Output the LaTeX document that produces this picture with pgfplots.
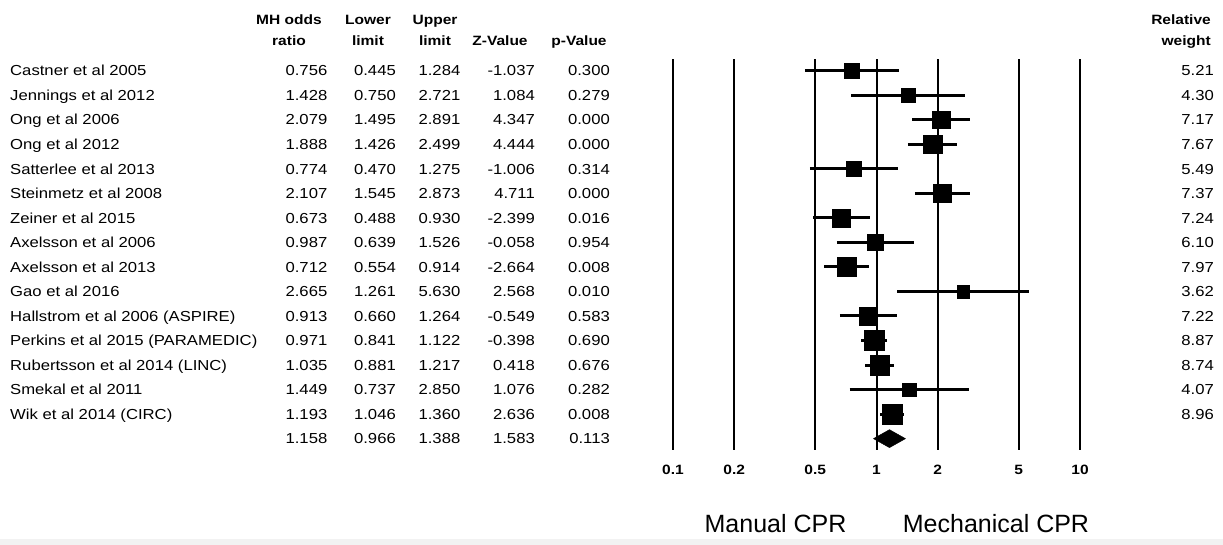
\documentclass[border=0pt]{standalone}
\usepackage{pgfplots}
\pgfplotsset{compat=1.18}
\usepackage{fontspec}
\setmainfont[FakeStretch=1.15]{Liberation Sans}
\newfontfamily\plainfont{Liberation Sans}

\begin{document}
\begin{tikzpicture}[every node/.style={inner sep=0pt, font=\fontsize{14.5bp}{17bp}\selectfont}]
\useasboundingbox (0bp,0bp) rectangle (1223bp,545bp);
\fill[white] (0bp,0bp) rectangle (1223bp,545bp);
\fill[black!5] (0bp,0bp) rectangle (1223bp,6bp);
\begin{axis}[
  at={(673bp,486bp)}, anchor=north west,
  scale only axis, width=407bp, height=391bp,
  xmode=log, xmin=0.1, xmax=10,
  ymin=0.523, ymax=16.463, y dir=reverse,
  xtick={0.1,0.2,0.5,1,2,5,10},
  xticklabels={0.1,0.2,0.5,1,2,5,10},
  xticklabel style={font=\bfseries\fontsize{13.5bp}{16bp}\selectfont, anchor=center, yshift=-20bp},
  ytick=\empty,
  xmajorgrids, grid style={black, line width=2bp},
  axis line style={draw=none}, major tick length=0pt,
  clip=false,
]
% confidence intervals
\addplot[black, line width=3bp, no marks] coordinates {(0.445,1) (1.284,1)};
\addplot[black, line width=3bp, no marks] coordinates {(0.750,2) (2.721,2)};
\addplot[black, line width=3bp, no marks] coordinates {(1.495,3) (2.891,3)};
\addplot[black, line width=3bp, no marks] coordinates {(1.426,4) (2.499,4)};
\addplot[black, line width=3bp, no marks] coordinates {(0.470,5) (1.275,5)};
\addplot[black, line width=3bp, no marks] coordinates {(1.545,6) (2.873,6)};
\addplot[black, line width=3bp, no marks] coordinates {(0.488,7) (0.930,7)};
\addplot[black, line width=3bp, no marks] coordinates {(0.639,8) (1.526,8)};
\addplot[black, line width=3bp, no marks] coordinates {(0.554,9) (0.914,9)};
\addplot[black, line width=3bp, no marks] coordinates {(1.261,10) (5.630,10)};
\addplot[black, line width=3bp, no marks] coordinates {(0.660,11) (1.264,11)};
\addplot[black, line width=3bp, no marks] coordinates {(0.841,12) (1.122,12)};
\addplot[black, line width=3bp, no marks] coordinates {(0.881,13) (1.217,13)};
\addplot[black, line width=3bp, no marks] coordinates {(0.737,14) (2.850,14)};
\addplot[black, line width=3bp, no marks] coordinates {(1.046,15) (1.360,15)};
% odds ratios, square size from relative weight
\addplot[only marks, mark=square*, black, mark size=7.53bp] coordinates {(0.756,1)};
\addplot[only marks, mark=square*, black, mark size=6.84bp] coordinates {(1.428,2)};
\addplot[only marks, mark=square*, black, mark size=8.84bp] coordinates {(2.079,3)};
\addplot[only marks, mark=square*, black, mark size=9.14bp] coordinates {(1.888,4)};
\addplot[only marks, mark=square*, black, mark size=7.73bp] coordinates {(0.774,5)};
\addplot[only marks, mark=square*, black, mark size=8.96bp] coordinates {(2.107,6)};
\addplot[only marks, mark=square*, black, mark size=8.88bp] coordinates {(0.673,7)};
\addplot[only marks, mark=square*, black, mark size=8.15bp] coordinates {(0.987,8)};
\addplot[only marks, mark=square*, black, mark size=9.32bp] coordinates {(0.712,9)};
\addplot[only marks, mark=square*, black, mark size=6.28bp] coordinates {(2.665,10)};
\addplot[only marks, mark=square*, black, mark size=8.87bp] coordinates {(0.913,11)};
\addplot[only marks, mark=square*, black, mark size=9.83bp] coordinates {(0.971,12)};
\addplot[only marks, mark=square*, black, mark size=9.76bp] coordinates {(1.035,13)};
\addplot[only marks, mark=square*, black, mark size=6.66bp] coordinates {(1.449,14)};
\addplot[only marks, mark=square*, black, mark size=9.88bp] coordinates {(1.193,15)};
% summary diamond
\addplot[fill=black, draw=black, no marks] coordinates {(0.966,16) (1.158,15.633) (1.388,16) (1.158,16.367) (0.966,16)};
\end{axis}

% headers
\begin{scope}[every node/.style={inner sep=0pt, font=\bfseries\fontsize{13.5bp}{16bp}\selectfont, anchor=base}]
\node at (289bp,520bp) {MH odds};
\node at (289bp,499bp) {ratio};
\node at (368bp,520bp) {Lower};
\node at (368bp,499bp) {limit};
\node at (435bp,520bp) {Upper};
\node at (435bp,499bp) {limit};
\node at (500bp,499bp) {Z-Value};
\node at (579bp,499bp) {p-Value};
\node[anchor=base east] at (1211bp,520bp) {Relative};
\node[anchor=base east] at (1211bp,499bp) {weight};
\end{scope}

\foreach \k/\name/\a/\b/\c/\z/\p/\w in {
 1/Castner et al 2005/0.756/0.445/1.284/-1.037/0.300/5.21,
 2/Jennings et al 2012/1.428/0.750/2.721/1.084/0.279/4.30,
 3/Ong et al 2006/2.079/1.495/2.891/4.347/0.000/7.17,
 4/Ong et al 2012/1.888/1.426/2.499/4.444/0.000/7.67,
 5/Satterlee et al 2013/0.774/0.470/1.275/-1.006/0.314/5.49,
 6/Steinmetz et al 2008/2.107/1.545/2.873/4.711/0.000/7.37,
 7/Zeiner et al 2015/0.673/0.488/0.930/-2.399/0.016/7.24,
 8/Axelsson et al 2006/0.987/0.639/1.526/-0.058/0.954/6.10,
 9/Axelsson et al 2013/0.712/0.554/0.914/-2.664/0.008/7.97,
 10/Gao et al 2016/2.665/1.261/5.630/2.568/0.010/3.62,
 11/Hallstrom et al 2006 (ASPIRE)/0.913/0.660/1.264/-0.549/0.583/7.22,
 12/Perkins et al 2015 (PARAMEDIC)/0.971/0.841/1.122/-0.398/0.690/8.87,
 13/Rubertsson et al 2014 (LINC)/1.035/0.881/1.217/0.418/0.676/8.74,
 14/Smekal et al 2011/1.449/0.737/2.850/1.076/0.282/4.07,
 15/Wik et al 2014 (CIRC)/1.193/1.046/1.360/2.636/0.008/8.96,
 16//1.158/0.966/1.388/1.583/0.113/}{
  \pgfmathsetmacro\yy{545-(70.7+24.53*(\k-1)+5.2)}
  \node[anchor=base west] at (10bp,\yy bp) {\name};
  \node[anchor=base east] at (327.5bp,\yy bp) {\a};
  \node[anchor=base east] at (396bp,\yy bp) {\b};
  \node[anchor=base east] at (460.5bp,\yy bp) {\c};
  \node[anchor=base east] at (535bp,\yy bp) {\z};
  \node[anchor=base east] at (610bp,\yy bp) {\p};
  \node[anchor=base east] at (1214bp,\yy bp) {\w};
}

\node[anchor=base, font=\plainfont\fontsize{25bp}{28bp}\selectfont] at (775.5bp,13bp) {Manual CPR};
\node[anchor=base, font=\plainfont\fontsize{25bp}{28bp}\selectfont] at (996bp,13bp) {Mechanical CPR};
\end{tikzpicture}
\end{document}
